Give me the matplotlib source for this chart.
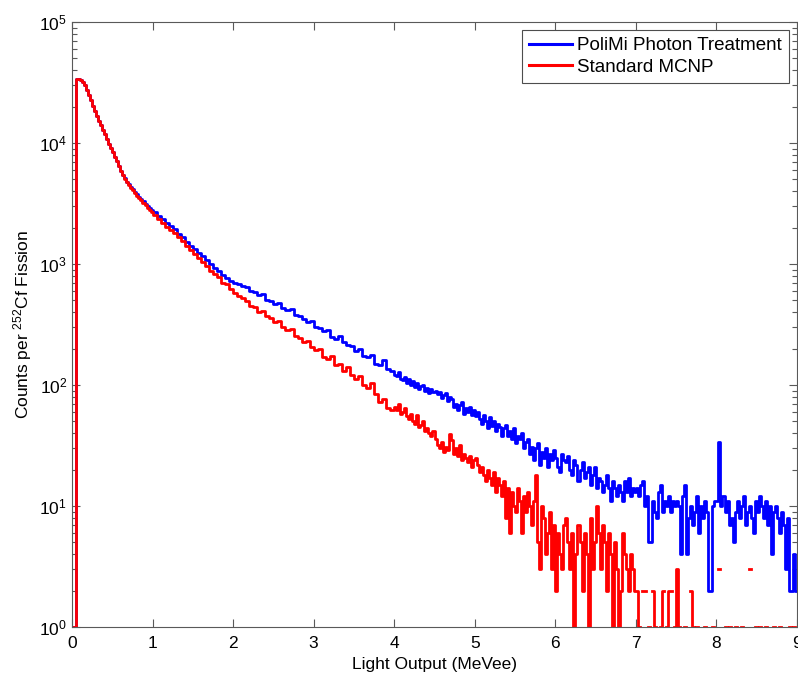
import numpy as np
import matplotlib.pyplot as plt
from matplotlib.ticker import LogLocator, FixedLocator

plt.rcParams['font.family'] = ['Liberation Sans', 'DejaVu Sans']
plt.rcParams['mathtext.default'] = 'regular'

# bins: 0.025 MeVee wide on 0-1, 0.05 on 1-4, 0.025 on 4-9
segments = [(0.0, 1.0, 0.025), (1.0, 4.0, 0.05), (4.0, 9.0, 0.025)]

# counts per bin (40 + 60 + 200 bins)
polimi = [
    # 0.0 - 1.0
    1, 1, 33500, 33500, 33000, 32000, 30000, 27500, 25000, 22500,
    20300, 18400, 16800, 15300, 14000, 12800, 11800, 10800, 9900, 9100,
    8400, 7700, 7100, 6500, 5900, 5450, 5100, 4800, 4550, 4350,
    4150, 3950, 3780, 3600, 3450, 3300, 3150, 3020, 2900, 2780,
    # 1.0 - 4.0
    2680, 2500, 2350, 2200, 2060, 1930, 1780, 1660, 1530, 1420,
    1330, 1240, 1160, 1070, 1000, 930, 880, 810, 770, 730,
    700, 680, 655, 640, 600, 585, 550, 560, 505, 495,
    470, 480, 430, 420, 425, 380, 370, 350, 330, 335,
    300, 295, 280, 285, 250, 240, 255, 225, 215, 210,
    190, 200, 175, 170, 178, 150, 145, 160, 135, 130,
    # 4.0 - 9.0
    122, 118, 128, 112, 110, 116, 104, 112, 100, 108, 96, 104, 93, 99, 100, 90, 95, 86, 92, 88,
    90, 84, 88, 78, 82, 86, 74, 80, 76, 66, 70, 62, 68, 72, 58, 64, 60, 66, 56, 62,
    55, 60, 52, 48, 56, 50, 44, 54, 46, 50, 42, 48, 45, 38, 44, 47, 38, 42, 36, 44,
    33, 38, 36, 40, 30, 34, 36, 27, 31, 24, 30, 33, 22, 28, 25, 30, 21, 27, 24, 29,
    25, 21, 19, 27, 24, 23, 26, 20, 18, 24, 22, 16, 20, 23, 17, 19, 21, 15, 18, 21,
    14, 17, 16, 13, 15, 18, 14, 11, 16, 14, 12, 15, 13, 11, 16, 13, 17, 12, 14, 13,
    14, 12, 15, 16, 10, 12, 5, 5, 11, 9, 8, 13, 15, 9, 11, 10, 12, 9, 11, 10,
    11, 10, 4, 12, 15, 4, 8, 10, 7, 9, 12, 6, 10, 8, 11, 9, 2, 2, 10, 11,
    11, 34, 10, 12, 9, 11, 7, 8, 5, 9, 11, 8, 10, 12, 7, 9, 10, 8, 6, 11,
    9, 12, 10, 8, 11, 7, 10, 4, 9, 10, 8, 6, 9, 7, 3, 8, 2, 2, 4, 2,
]

mcnp = [
    # 0.0 - 1.0
    1, 1, 33500, 33500, 33000, 32000, 30000, 27500, 25000, 22500,
    20300, 18400, 16800, 15300, 14000, 12800, 11800, 10800, 9900, 9100,
    8400, 7700, 7100, 6500, 5900, 5400, 5050, 4750, 4480, 4250,
    4050, 3850, 3680, 3500, 3350, 3200, 3050, 2920, 2800, 2680,
    # 1.0 - 4.0
    2530, 2350, 2200, 2040, 1900, 1800, 1660, 1540, 1400, 1300,
    1220, 1120, 1030, 970, 880, 830, 780, 700, 680, 620,
    580, 545, 525, 495, 450, 440, 400, 410, 370, 355,
    330, 335, 300, 285, 290, 255, 245, 225, 230, 205,
    195, 200, 170, 165, 175, 145, 150, 130, 140, 120,
    112, 118, 100, 95, 104, 85, 72, 76, 64, 62,
    # 4.0 - 9.0
    66, 62, 70, 58, 60, 64, 55, 52, 58, 50, 48, 56, 45, 47, 50, 42, 44, 40, 38, 42,
    36, 32, 30, 34, 28, 31, 29, 39, 35, 27, 30, 26, 32, 24, 27, 25, 23, 26, 21, 24,
    25, 22, 19, 21, 18, 16, 20, 17, 15, 19, 13, 17, 15, 12, 16, 8, 14, 6, 13, 10,
    9, 14, 11, 6, 12, 9, 13, 10, 7, 11, 18, 5, 3, 10, 8, 4, 6, 9, 3, 7,
    2, 6, 4, 3, 7, 8, 5, 3, 6, 1, 4, 7, 5, 2, 6, 4, 1, 8, 3, 5,
    10, 6, 3, 7, 5, 2, 6, 4, 1, 5, 3, 1, 2, 6, 4, 3, 2, 4, 3, 2,
    2, 1, 0, 2, 2, 0, 1, 0, 2, 1, 0, 0, 1, 2, 0, 1, 2, 2, 0, 1,
    3, 1, 0, 0, 1, 0, 0, 2, 1, 0, 1, 0, 0, 0, 1, 0, 0, 0, 1, 0,
    0, 3, 0, 0, 1, 0, 1, 0, 0, 1, 0, 0, 1, 0, 0, 0, 3, 0, 0, 1,
    0, 1, 0, 0, 1, 0, 0, 0, 1, 0, 0, 1, 0, 0, 0, 0, 1, 0, 1, 0,
]

x_ticks = [0, 1, 2, 3, 4, 5, 6, 7, 8, 9]

edge_parts = []
for lo, hi, w in segments:
    n = int(round((hi - lo) / w))
    edge_parts.append(lo + np.arange(n) * w)
edges = np.append(np.concatenate(edge_parts), segments[-1][1])


def step_vals(counts):
    y = np.array(counts + [counts[-1]], dtype=float)
    y[y <= 0] = np.nan   # empty bins are not drawn on a log axis
    return y


fig = plt.figure(figsize=(7.98, 6.77), dpi=100)
ax = fig.add_axes([72 / 798, 50 / 677, 725 / 798, 605 / 677])

ax.step(edges, step_vals(polimi), where='post', color='#0000ff', lw=2.0,
        label='PoliMi Photon Treatment')
ax.step(edges, step_vals(mcnp), where='post', color='#ff0000', lw=2.0,
        label='Standard MCNP')

ax.set_yscale('log')
ax.set_xlim(0, 9)
ax.set_ylim(1, 1e5)
ax.xaxis.set_major_locator(FixedLocator(x_ticks))
ax.yaxis.set_major_locator(LogLocator(base=10, numticks=10))
ax.yaxis.set_minor_locator(LogLocator(base=10, subs=np.arange(2, 10), numticks=20))

ax.tick_params(which='both', direction='in', top=True, right=True,
               colors='0.35', labelcolor='black', labelsize=12.5)
ax.tick_params(which='major', length=6, width=0.8)
ax.tick_params(which='minor', length=3.5, width=0.8)
ax.tick_params(axis='x', which='major', pad=6.5)
for s in ax.spines.values():
    s.set_color('0.35')
    s.set_linewidth(0.8)

ax.set_xlabel('Light Output (MeVee)', fontsize=12.5, labelpad=4)
ax.set_ylabel('Counts per $^{252}$Cf Fission', fontsize=12.5, labelpad=4)

leg = ax.legend(loc='upper right', fontsize=13.5, fancybox=False,
                edgecolor='0.3', framealpha=1, borderaxespad=0.45,
                handlelength=2.3, borderpad=0.35, labelspacing=0.25,
                handletextpad=0.3)
leg.get_frame().set_linewidth(0.8)
for line in leg.get_lines():
    line.set_linewidth(2.2)

fig.savefig('out.png', dpi=100)
